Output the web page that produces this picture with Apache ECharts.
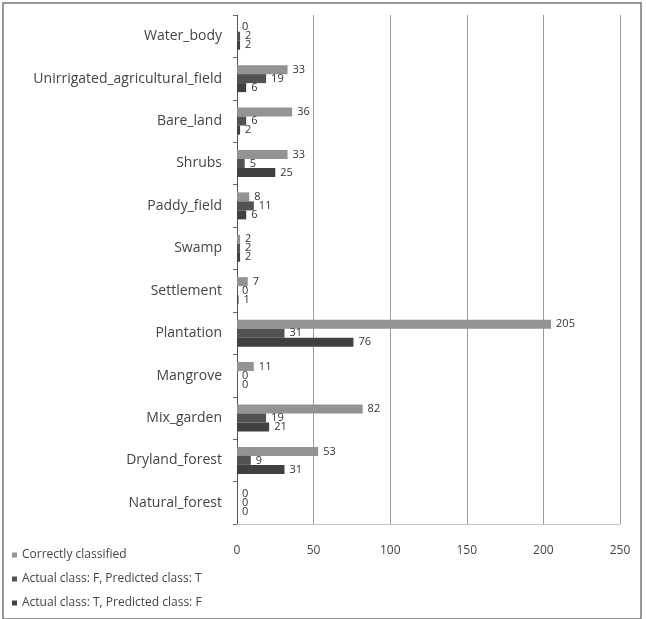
<!DOCTYPE html>
<html>
<head>
<meta charset="utf-8">
<script src="https://cdn.jsdelivr.net/npm/echarts@6/dist/echarts.min.js"></script>
<style>
  html, body { margin: 0; padding: 0; background: #fff; }
  #chart { width: 646px; height: 619px; }
</style>
</head>
<body>
<div id="chart"></div>
<script>
// Land-cover classes, listed top to bottom
const categories = [
  'Water_body', 'Unirrigated_agricultural_field', 'Bare_land', 'Shrubs',
  'Paddy_field', 'Swamp', 'Settlement', 'Plantation', 'Mangrove',
  'Mix_garden', 'Dryland_forest', 'Natural_forest'
];

const seriesNames = [
  'Correctly classified',
  'Actual class: F, Predicted class: T',
  'Actual class: T, Predicted class: F'
];

const correctlyClassified = [0, 33, 36, 33, 8, 2, 7, 205, 11, 82, 53, 0];
const actualFPredictedT   = [2, 19, 6, 5, 11, 2, 0, 31, 0, 19, 9, 0];
const actualTPredictedF   = [2, 6, 2, 25, 6, 2, 1, 76, 0, 21, 31, 0];

const xTicks = [0, 50, 100, 150, 200, 250];

const seriesColors = ['#939393', '#525252', '#404040'];
const fontFamily = '"Open Sans", "Liberation Sans", sans-serif';

const chart = echarts.init(document.getElementById('chart'));

function barSeries(name, values, color) {
  return {
    name: name,
    type: 'bar',
    data: values,
    barWidth: 9,
    barGap: '0%',
    itemStyle: { color: color },
    label: {
      show: true,
      position: 'right',
      distance: 5,
      fontSize: 11,
      fontFamily: fontFamily,
      color: '#333'
    }
  };
}

chart.setOption({
  animation: false,
  backgroundColor: '#fff',
  graphic: [{
    type: 'rect',
    shape: { x: 3, y: 3, width: 638, height: 616 },
    style: { fill: 'none', stroke: '#777', lineWidth: 1.5 },
    silent: true
  }],
  grid: { left: 237, right: 26, top: 15, bottom: 95, containLabel: false },
  legend: {
    orient: 'vertical',
    left: 7,
    top: 544,
    itemWidth: 5,
    itemHeight: 5,
    itemGap: 12,
    icon: 'rect',
    data: seriesNames,
    textStyle: { fontSize: 12, fontFamily: fontFamily, color: '#444' }
  },
  xAxis: {
    type: 'value',
    min: xTicks[0],
    max: xTicks[xTicks.length - 1],
    interval: 50,
    axisLine: { show: true, lineStyle: { color: '#c4c4c4', width: 1 } },
    axisTick: { show: false },
    axisLabel: { fontSize: 12, fontFamily: fontFamily, color: '#444', margin: 21 },
    splitLine: { show: true, lineStyle: { color: '#9a9a9a', width: 1 } }
  },
  yAxis: {
    type: 'category',
    data: categories,
    inverse: true,
    axisLine: { show: true, lineStyle: { color: '#555', width: 1 } },
    axisTick: { show: true, length: 4, inside: false, lineStyle: { color: '#666' } },
    axisLabel: { fontSize: 14, fontFamily: fontFamily, color: '#444', margin: 15 }
  },
  series: [
    barSeries(seriesNames[0], correctlyClassified, seriesColors[0]),
    barSeries(seriesNames[1], actualFPredictedT, seriesColors[1]),
    barSeries(seriesNames[2], actualTPredictedF, seriesColors[2])
  ]
});
</script>
</body>
</html>
